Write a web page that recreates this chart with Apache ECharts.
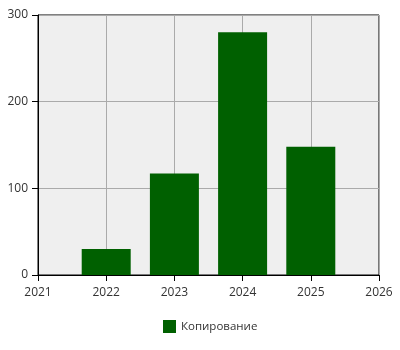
<!DOCTYPE html>
<html>
<head>
<meta charset="utf-8">
<script src="https://cdn.jsdelivr.net/npm/echarts@6/dist/echarts.min.js"></script>
<style>html,body{margin:0;padding:0;background:#fff}#c{width:400px;height:350px}</style>
</head>
<body>
<div id="c"></div>
<script>
const years = [2022, 2023, 2024, 2025];
const values = [30, 117, 280, 148];
const seriesName = 'Копирование';
const xTicks = [2021, 2022, 2023, 2024, 2025, 2026];

const chart = echarts.init(document.getElementById('c'), null, {renderer: 'canvas'});
const font = '"Open Sans", "Noto Sans", sans-serif';
chart.setOption({
  animation: false,
  textStyle: {fontFamily: font},
  grid: {left: 38, right: 21, top: 15, bottom: 75, show: true, backgroundColor: '#efefef', borderColor: '#000', borderWidth: 1},
  legend: {
    top: 315, left: 158, padding: 5, icon: 'rect', itemWidth: 13, itemHeight: 13, itemGap: 6,
    textStyle: {fontSize: 11.5, color: '#333', fontFamily: font},
    data: [seriesName]
  },
  xAxis: {
    type: 'value', min: xTicks[0], max: xTicks[xTicks.length - 1], interval: 1,
    axisLine: {show: true, lineStyle: {color: '#000', width: 1}},
    axisTick: {show: true, length: 6, lineStyle: {color: '#000'}},
    axisLabel: {color: '#333', fontSize: 12, margin: 12, fontFamily: font, formatter: v => String(v)},
    splitLine: {show: true, lineStyle: {color: '#aaa', width: 1}}
  },
  yAxis: {
    type: 'value', min: 0, max: 300, interval: 100,
    axisLine: {show: true, lineStyle: {color: '#000', width: 1}},
    axisTick: {show: true, length: 6, lineStyle: {color: '#000'}},
    axisLabel: {color: '#333', fontSize: 12, margin: 10, fontFamily: font},
    splitLine: {show: true, lineStyle: {color: '#aaa', width: 1}}
  },
  series: [{
    name: seriesName, type: 'bar', barWidth: 49,
    itemStyle: {color: '#006000'},
    data: years.map((y, i) => [y, values[i]])
  }]
});
</script>
</body>
</html>
